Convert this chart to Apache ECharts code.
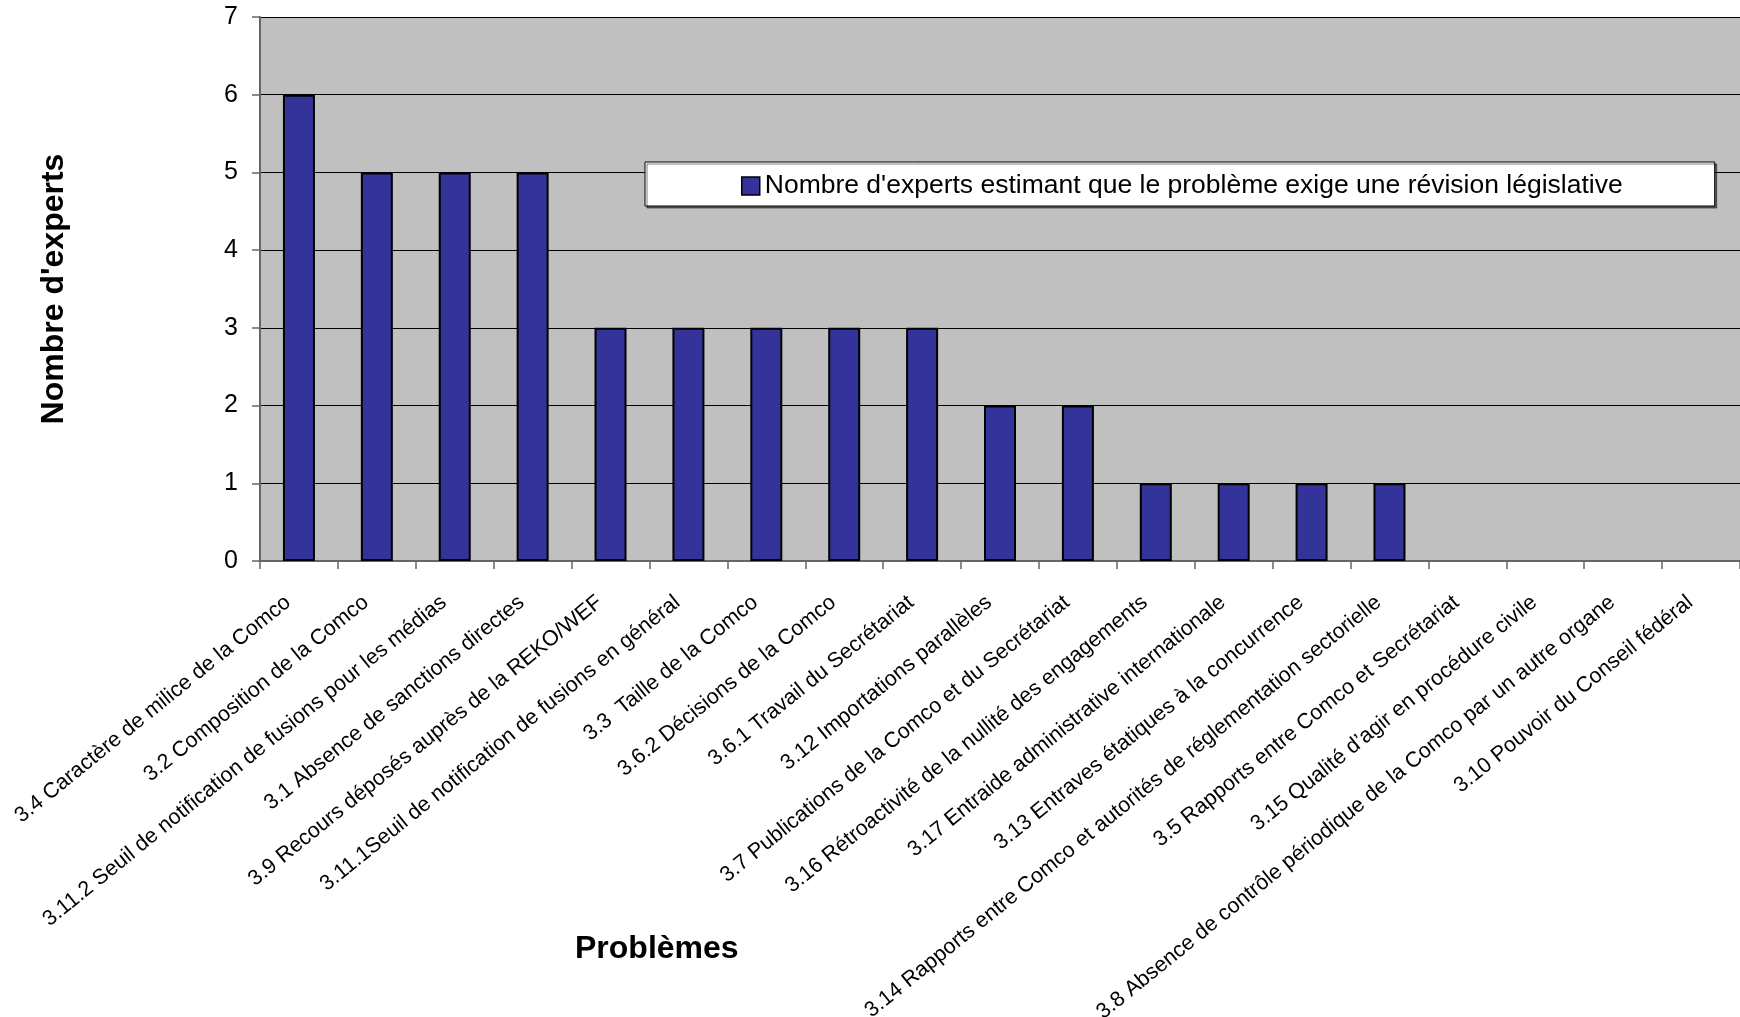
<!DOCTYPE html>
<html>
<head>
<meta charset="utf-8">
<script src="https://cdn.jsdelivr.net/npm/echarts@6/dist/echarts.min.js"></script>
<style>
  html, body { margin: 0; padding: 0; background: #fff; }
  #chart { width: 1740px; height: 1017px; }
</style>
</head>
<body>
<div id="chart"></div>
<script>
// problèmes (ordre du graphique)
const problemes = [
  '3.4 Caractère de milice de la Comco',
  '3.2 Composition de la Comco',
  '3.11.2 Seuil de notification de fusions pour les médias',
  '3.1 Absence de sanctions directes',
  '3.9 Recours déposés auprès de la REKO/WEF',
  '3.11.1Seuil de notification de fusions en général',
  '3.3  Taille de la Comco',
  '3.6.2 Décisions de la Comco',
  '3.6.1 Travail du Secrétariat',
  '3.12 Importations parallèles',
  '3.7 Publications de la Comco et du Secrétariat',
  '3.16 Rétroactivité de la nullité des engagements',
  '3.17 Entraide administrative internationale',
  '3.13 Entraves étatiques à la concurrence',
  '3.14 Rapports entre Comco et autorités de réglementation sectorielle',
  '3.5 Rapports entre Comco et Secrétariat',
  '3.15 Qualité d’agir en procédure civile',
  '3.8 Absence de contrôle périodique de la Comco par un autre organe',
  '3.10 Pouvoir du Conseil fédéral'
];
const nbExperts = [6, 5, 5, 5, 3, 3, 3, 3, 3, 2, 2, 1, 1, 1, 1, 0, 0, 0, 0];
const serieNom = "Nombre d'experts estimant que le problème exige une révision législative";

const font = 'Arial, "Liberation Sans", sans-serif';
const chart = echarts.init(document.getElementById('chart'));

// les barres à zéro n'ont pas de contour visible
const barData = nbExperts.map(v => v === 0 ? { value: v, itemStyle: { borderWidth: 0 } } : v);

const option = {
  backgroundColor: '#fff',
  textStyle: { fontFamily: font, color: '#000' },
  grid: {
    left: 260, right: 0, top: 17, bottom: 456,
    outerBoundsMode: 'none', containLabel: false,
    show: true, backgroundColor: '#c0c0c0', borderWidth: 0
  },
  legend: {
    data: [serieNom],
    left: 645, top: 162,
    backgroundColor: '#fff',
    borderColor: '#000', borderWidth: 1,
    shadowColor: 'rgba(0,0,0,0.5)', shadowOffsetX: 2, shadowOffsetY: 2,
    padding: [10, 92, 6, 96],
    itemWidth: 18, itemHeight: 18,
    icon: 'rect',
    itemStyle: { borderColor: '#000', borderWidth: 1.5 },
    textStyle: { fontSize: 26.5, lineHeight: 28, fontFamily: font, color: '#000' }
  },
  xAxis: {
    type: 'category',
    data: problemes,
    axisLine: { lineStyle: { color: '#666', width: 2 } },
    axisTick: { show: true, length: 8, lineStyle: { color: '#666', width: 1.5 } },
    axisLabel: {
      interval: 0, rotate: 39, margin: 30, padding: [0, 14, 0, 0],
      fontSize: 21.5, color: '#000', fontFamily: font
    }
  },
  yAxis: {
    type: 'value',
    min: 0, max: 7, interval: 1,
    name: "Nombre d'experts",
    nameLocation: 'middle', nameGap: 190, nameRotate: 90,
    nameTextStyle: { fontSize: 32, fontWeight: 'bold', color: '#000', fontFamily: font },
    axisLine: { show: true, lineStyle: { color: '#666', width: 2 } },
    axisTick: { show: true, length: 8, lineStyle: { color: '#666', width: 1.5 } },
    axisLabel: { fontSize: 25, margin: 22, color: '#000', fontFamily: font },
    splitLine: { show: true, lineStyle: { color: '#000', width: 1 } }
  },
  series: [{
    name: serieNom,
    type: 'bar',
    data: barData,
    barWidth: 32,
    itemStyle: { color: '#333399', borderColor: '#000', borderWidth: 2 }
  }],
  graphic: [{
    type: 'text',
    left: 575, top: 933,
    style: { text: 'Problèmes', fontSize: 32, fontWeight: 'bold', fill: '#000', fontFamily: font }
  }]
};
chart.setOption(option);
</script>
</body>
</html>
